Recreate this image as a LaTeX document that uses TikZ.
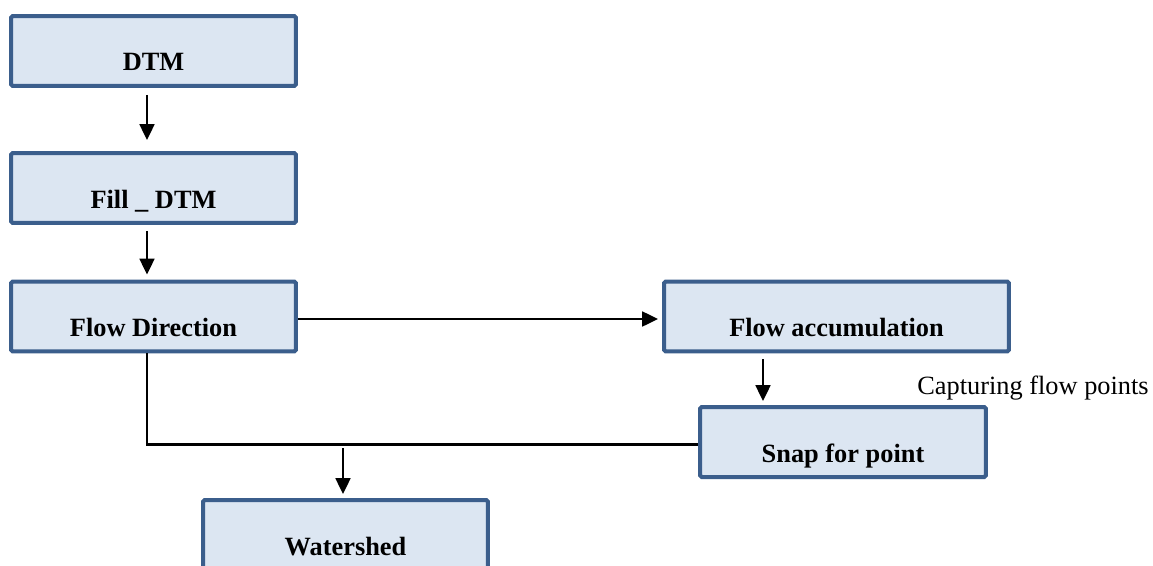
\documentclass[tikz,border=0pt]{standalone}
\usepackage{fontspec}
\setmainfont{Liberation Serif}
\usetikzlibrary{positioning, arrows.meta, calc}
\definecolor{boxblue}{RGB}{59, 94, 140}
\definecolor{boxfill}{RGB}{220, 230, 242}

\begin{document}
\begin{tikzpicture}[x=0.02cm, y=-0.02cm,
    every node/.style={font=\fontsize{15}{18}\selectfont},
    procbox/.style={draw=boxblue, fill=boxfill, line width=0.08cm, rounded corners=1pt,
      minimum width=5.7cm, inner xsep=0pt, inner ysep=0pt,
      text height=1.1cm, text depth=0.3cm, font=\fontsize{15}{18}\selectfont\bfseries},
    link/.style={line width=1.1pt, -{Triangle[length=9pt, width=8.5pt]}},
    trunk/.style={line width=1.7pt}]
    \clip (0,0) rectangle (1153,565);

    \node[procbox] (dtm)   at (153.5, 51)    {DTM};
    \node[procbox] (fill)  at (153.5, 188)   {Fill \_ DTM};
    \node[procbox] (fdir)  at (153.5, 316.5) {Flow Direction};
    \node[procbox, minimum width=6.9cm] (facc) at (836.5, 316.5) {Flow accumulation};
    \node[procbox, minimum width=5.72cm] (snap) at (843, 442) {Snap for point};
    \node[procbox] (wshed) at (345.5, 535)   {Watershed};
    \node[anchor=base] (capt) at (1033, 394) {Capturing flow points};

    \draw[link] ($(dtm.south)+(-6.5,7)$) -- ($(fill.north)+(-6.5,-11)$);
    \draw[link] ($(fill.south)+(-6.5,6)$) -- ($(fdir.north)+(-6.5,-5)$);
    \draw[link] ($(fdir.east)+(0,2.5)$) -- ($(facc.west)+(-4,2.5)$);
    \draw[link] ($(facc.south)+(-73.5,6)$) -- ($(snap.north)+(-80,-4)$);

    \draw[trunk] ($(fdir.south)+(-6.5,0)$) |- ($(snap.west)+(0,2)$);
    \coordinate (drop) at (343, 444);
    \draw[link] ($(drop)+(0,4)$) -- ($(wshed.north)+(-2.5,-4)$);
  \end{tikzpicture}
\end{document}
